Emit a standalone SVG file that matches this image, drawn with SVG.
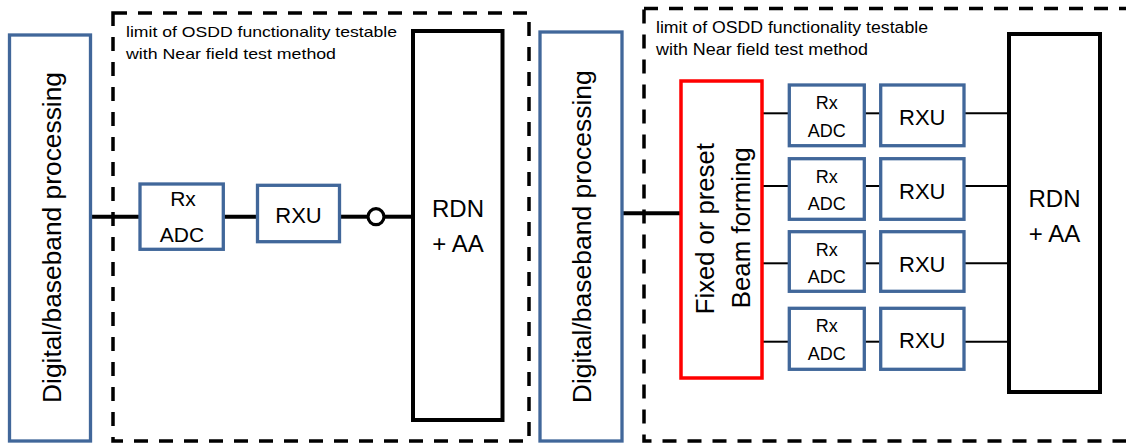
<svg xmlns="http://www.w3.org/2000/svg" width="1126" height="444" viewBox="0 0 1126 444">
<style>
  text { font-family: "Liberation Sans", Arial, sans-serif; fill: #000; }
  .blue { fill: #fff; stroke: #41679A; stroke-width: 3.3; }
  .black { fill: #fff; stroke: #000; stroke-width: 4; }
  .red { fill: #fff; stroke: #FF0000; stroke-width: 3.5; }
  .dash { fill: none; stroke: #000; stroke-width: 3.5; stroke-dasharray: 14 11; }
  .thick { stroke: #000; stroke-width: 4; fill: none; }
  .thin { stroke: #000; stroke-width: 2; fill: none; }
  .lim { font-size: 15px; }
  .big { font-size: 26.5px; }
  .bf { font-size: 25px; }
  .rdn { font-size: 24px; text-anchor: middle; }
  .rxu { font-size: 22px; text-anchor: middle; }
  .rx1 { font-size: 21px; text-anchor: middle; }
  .rx2 { font-size: 18px; text-anchor: middle; }
</style>

<!-- Left diagram -->
<g id="limit-left">
  <rect class="dash" x="113" y="13" width="416" height="428"/>
  <text class="lim" x="126" y="36.5" textLength="271" lengthAdjust="spacingAndGlyphs">limit of OSDD functionality testable</text>
  <text class="lim" x="126" y="59" textLength="210" lengthAdjust="spacingAndGlyphs">with Near field test method</text>
</g>

<g id="connectors-left">
  <line class="thick" x1="92" y1="216.7" x2="140" y2="216.7"/>
  <line class="thick" x1="223" y1="216.7" x2="257.5" y2="216.7"/>
  <line class="thick" x1="339.5" y1="216.7" x2="368" y2="216.7"/>
  <line class="thick" x1="384" y1="216.7" x2="413" y2="216.7"/>
  <circle cx="376" cy="216.7" r="8" fill="#fff" stroke="#000" stroke-width="3.2"/>
</g>

<g id="dbp-left">
  <rect class="blue" x="9.5" y="35" width="81" height="406"/>
  <text class="big" transform="translate(61 237.5) rotate(-90)" text-anchor="middle" textLength="331" lengthAdjust="spacingAndGlyphs">Digital/baseband processing</text>
</g>

<g id="rxadc-left">
  <rect class="blue" x="140" y="184" width="83.3" height="65.3"/>
  <text class="rx1" x="183" y="206">Rx</text>
  <text class="rx1" x="182" y="242">ADC</text>
</g>

<g id="rxu-left">
  <rect class="blue" x="257.5" y="185.3" width="82" height="56.4"/>
  <text class="rxu" x="298.5" y="223">RXU</text>
</g>

<g id="rdn-left">
  <rect class="black" x="413" y="31" width="89.5" height="389"/>
  <text class="rdn" x="458" y="217">RDN</text>
  <text class="rdn" x="458" y="252">+ AA</text>
</g>

<!-- Right diagram -->
<g id="limit-right">
  <rect class="dash" x="644" y="8.5" width="500" height="432.5"/>
  <text class="lim" x="656" y="32.5" font-size="16" style="font-size:16px" textLength="272" lengthAdjust="spacingAndGlyphs">limit of OSDD functionality testable</text>
  <text class="lim" x="656" y="55" style="font-size:16px" textLength="212" lengthAdjust="spacingAndGlyphs">with Near field test method</text>
</g>

<g id="connectors-right">
  <line class="thick" x1="622" y1="213.3" x2="681" y2="213.3"/>
  <line class="thin" x1="762" y1="113.3" x2="789.3" y2="113.3"/>
  <line class="thin" x1="864.3" y1="113.3" x2="880.7" y2="113.3"/>
  <line class="thin" x1="964" y1="113.3" x2="1009" y2="113.3"/>
  <line class="thin" x1="762" y1="186" x2="789.3" y2="186"/>
  <line class="thin" x1="864.3" y1="186" x2="880.7" y2="186"/>
  <line class="thin" x1="964" y1="186" x2="1009" y2="186"/>
  <line class="thin" x1="762" y1="263.3" x2="789.3" y2="263.3"/>
  <line class="thin" x1="864.3" y1="263.3" x2="880.7" y2="263.3"/>
  <line class="thin" x1="964" y1="263.3" x2="1009" y2="263.3"/>
  <line class="thin" x1="762" y1="341.7" x2="789.3" y2="341.7"/>
  <line class="thin" x1="864.3" y1="341.7" x2="880.7" y2="341.7"/>
  <line class="thin" x1="964" y1="341.7" x2="1009" y2="341.7"/>
</g>

<g id="dbp-right">
  <rect class="blue" x="540" y="32" width="82" height="409"/>
  <text class="big" transform="translate(591 236.7) rotate(-90)" text-anchor="middle" textLength="333" lengthAdjust="spacingAndGlyphs">Digital/baseband processing</text>
</g>

<g id="beamforming">
  <rect class="red" x="681" y="81" width="81" height="297"/>
  <text class="bf" transform="translate(714 228.7) rotate(-90)" text-anchor="middle" textLength="171" lengthAdjust="spacingAndGlyphs">Fixed or preset</text>
  <text class="bf" transform="translate(750 227.8) rotate(-90)" text-anchor="middle" textLength="161" lengthAdjust="spacingAndGlyphs">Beam forming</text>
</g>

<g id="rxadc-1">
  <rect class="blue" x="789.3" y="85" width="75" height="60.7"/>
  <text class="rx2" x="826.8" y="109">Rx</text>
  <text class="rx2" x="826.8" y="136.7">ADC</text>
</g>
<g id="rxu-1">
  <rect class="blue" x="880.7" y="85" width="83.3" height="60.7"/>
  <text class="rxu" x="922.3" y="125">RXU</text>
</g>

<g id="rxadc-2">
  <rect class="blue" x="789.3" y="158.7" width="75" height="60.6"/>
  <text class="rx2" x="826.8" y="182.7">Rx</text>
  <text class="rx2" x="826.8" y="210.4">ADC</text>
</g>
<g id="rxu-2">
  <rect class="blue" x="880.7" y="158.7" width="83.3" height="60.6"/>
  <text class="rxu" x="922.3" y="198.7">RXU</text>
</g>

<g id="rxadc-3">
  <rect class="blue" x="789.3" y="231.7" width="75" height="59.6"/>
  <text class="rx2" x="826.8" y="255.7">Rx</text>
  <text class="rx2" x="826.8" y="283.4">ADC</text>
</g>
<g id="rxu-3">
  <rect class="blue" x="880.7" y="231.7" width="83.3" height="59.6"/>
  <text class="rxu" x="922.3" y="271.7">RXU</text>
</g>

<g id="rxadc-4">
  <rect class="blue" x="789.3" y="308.3" width="75" height="61"/>
  <text class="rx2" x="826.8" y="332.3">Rx</text>
  <text class="rx2" x="826.8" y="360">ADC</text>
</g>
<g id="rxu-4">
  <rect class="blue" x="880.7" y="308.3" width="83.3" height="61"/>
  <text class="rxu" x="922.3" y="348.3">RXU</text>
</g>

<g id="rdn-right">
  <rect class="black" x="1009" y="34" width="91" height="358"/>
  <text class="rdn" x="1054.5" y="207">RDN</text>
  <text class="rdn" x="1054.5" y="242">+ AA</text>
</g>
</svg>
